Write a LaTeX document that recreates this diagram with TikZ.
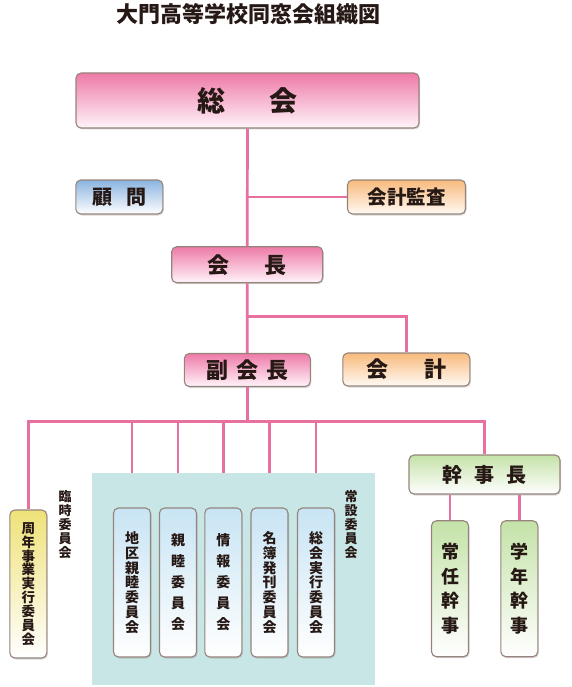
\documentclass[tikz,border=0pt]{standalone}
\usepackage{fontspec}
\usepackage{tikz}
\usetikzlibrary{shadows}
\newfontfamily\jp{Noto Sans CJK JP}
\definecolor{linepink}{RGB}{232,112,160}
\definecolor{boxedge}{RGB}{150,132,124}
\definecolor{ink}{RGB}{38,24,20}
\definecolor{pinktop}{RGB}{238,122,168}
\definecolor{pinkbot}{RGB}{255,244,249}
\definecolor{bluetop}{RGB}{138,180,224}
\definecolor{orangetop}{RGB}{248,186,124}
\definecolor{greentop}{RGB}{196,226,168}
\definecolor{skytop}{RGB}{200,228,244}
\definecolor{yellowtop}{RGB}{238,226,120}
\definecolor{tealbg}{RGB}{200,230,230}

\begin{document}
\begin{tikzpicture}[x=1pt, y=-1pt,
        box/.style={draw=boxedge, line width=1.1pt, rounded corners=5pt, inner sep=0pt,
                    text=ink, font=\jp\bfseries,
                    drop shadow={shadow xshift=1pt, shadow yshift=-1.5pt, opacity=0.3}},
        pinkbox/.style={box, top color=pinktop, bottom color=pinkbot},
        bluebox/.style={box, top color=bluetop, bottom color=white},
        orangebox/.style={box, top color=orangetop, bottom color=orange!4},
        greenbox/.style={box, top color=greentop, bottom color=white},
        skybox/.style={box, top color=skytop, bottom color=white, align=center,
                       minimum width=37, minimum height=149},
        tatelabel/.style={text=ink, font=\jp\bfseries\fontsize{13}{14}\selectfont, align=center},
        link/.style={draw=linepink, line width=2.7pt},
    ]
    \useasboundingbox (0,0) rectangle (571,687);
    % title
    \node[text=ink, font=\jp\bfseries\fontsize{22}{24}\selectfont] (title) at (248,14)
        {大門高等学校同窓会組織図};
    % upper part
    \node[pinkbox, minimum width=343, minimum height=55, font=\jp\bfseries\fontsize{28}{30}\selectfont]
        (sokai) at (247.5,100.5) {総\hspace{1.6em}会};
    \node[bluebox, minimum width=87, minimum height=34, font=\jp\bfseries\fontsize{20}{22}\selectfont]
        (komon) at (119.3,197) {顧\hspace{0.7em}問};
    \node[orangebox, minimum width=118, minimum height=34, font=\jp\bfseries\fontsize{19.5}{22}\selectfont]
        (kansa) at (406.5,197) {会計監査};
    \node[pinkbox, minimum width=151, minimum height=36, font=\jp\bfseries\fontsize{22}{24}\selectfont]
        (kaicho) at (247.2,264.7) {会\hspace{1.6em}長};
    \node[pinkbox, minimum width=126, minimum height=33, font=\jp\bfseries\fontsize{22}{24}\selectfont]
        (fuku) at (247.3,370) {副\hspace{0.35em}会\hspace{0.35em}長};
    \node[orangebox, minimum width=127, minimum height=33, font=\jp\bfseries\fontsize{22}{24}\selectfont]
        (kaikei) at (406.3,369.5) {会\hspace{1.65em}計};
    \coordinate (j1) at (247.3,316.7);
    \coordinate (bus) at (247.3,421.7);
    \draw[link] (sokai.south) -- (kaicho.north);
    \draw[link] (kansa.west) -- (kansa.west -| sokai.south);
    \draw[link] (kaicho.south) -- (fuku.north);
    \draw[link] (kaikei.north) |- (j1);
    \draw[link] (fuku.south) -- (bus);
    % standing committees
    \node[fill=tealbg, inner sep=0pt, minimum width=283.3, minimum height=212.3] (josetsu) at (233.4,578.9) {};
    \node[skybox, font=\jp\bfseries\fontsize{14}{14.8}\selectfont] (chiku) at (132,582.5)
        {地\\区\\親\\睦\\委\\員\\会};
    \node[skybox, font=\jp\bfseries\fontsize{14}{21}\selectfont] (shinboku) at (178,582.5)
        {親\\睦\\委\\員\\会};
    \node[skybox, font=\jp\bfseries\fontsize{14}{21}\selectfont] (joho) at (223.3,582.5)
        {情\\報\\委\\員\\会};
    \node[skybox, font=\jp\bfseries\fontsize{14}{14.8}\selectfont] (meibo) at (269.5,582.5)
        {名\\簿\\発\\刊\\委\\員\\会};
    \node[skybox, font=\jp\bfseries\fontsize{14}{14.8}\selectfont] (jikko) at (316,582.5)
        {総\\会\\実\\行\\委\\員\\会};
    \node[tatelabel] (josetsulabel) at (351,525) {常\\設\\委\\員\\会};
    % temporary committee
    \node[box, top color=yellowtop, bottom color=white, align=center, minimum width=37, minimum height=148,
          font=\jp\bfseries\fontsize{13.5}{13.9}\selectfont] (shunen) at (28.3,584)
        {周\\年\\事\\業\\実\\行\\委\\員\\会};
    \node[tatelabel] (rinjilabel) at (65,525) {臨\\時\\委\\員\\会};
    % kanji
    \node[greenbox, minimum width=151, minimum height=39, font=\jp\bfseries\fontsize{20}{22}\selectfont]
        (kanjicho) at (484.5,474.5) {幹\hspace{0.62em}事\hspace{0.62em}長};
    \node[greenbox, align=center, minimum width=37, minimum height=136,
          font=\jp\bfseries\fontsize{18}{24.7}\selectfont] (jonin) at (450,588.7) {常\\任\\幹\\事};
    \node[greenbox, align=center, minimum width=37, minimum height=136,
          font=\jp\bfseries\fontsize{18}{24.7}\selectfont] (gakunen) at (519.3,588.7) {学\\年\\幹\\事};
    % branches
    \draw[link] (shunen.north) |- (bus) -| (kanjicho.north);
    \foreach \c in {chiku, shinboku, joho, meibo, jikko}
        \draw[link] (\c.north |- bus) -- (\c.north |- josetsu.north);
    \draw[link] (jonin.north) -- (jonin.north |- kanjicho.south);
    \draw[link] (gakunen.north) -- (gakunen.north |- kanjicho.south);
\end{tikzpicture}
\end{document}
